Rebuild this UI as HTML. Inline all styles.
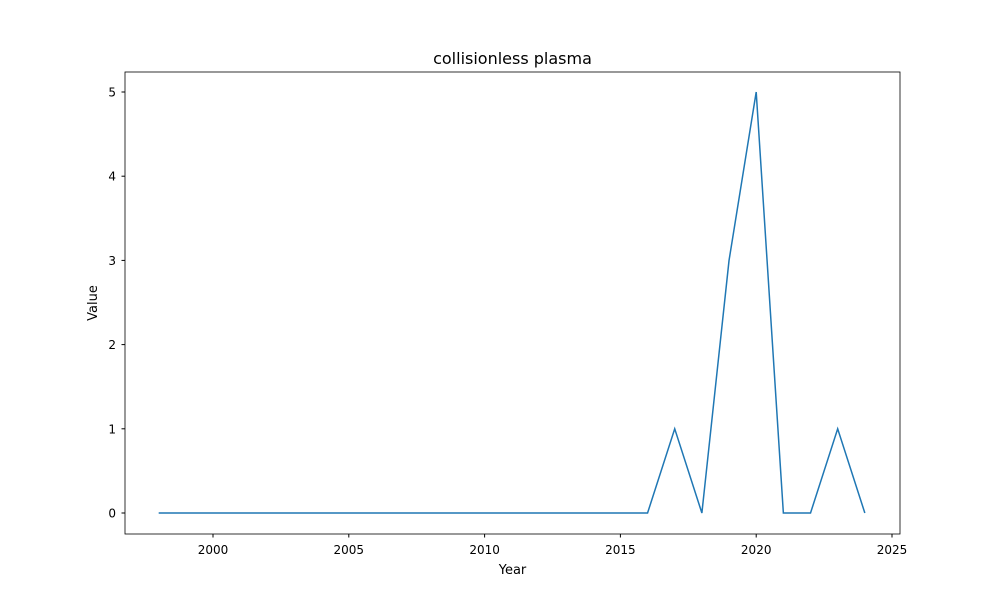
<!DOCTYPE html>
<html><head><meta charset="utf-8"><style>
body{margin:0;background:#fff;font-family:"Liberation Sans","DejaVu Sans",sans-serif}
svg text{font-family:"DejaVu Sans","Liberation Sans",sans-serif;fill:#000}
</style></head><body>
<svg id="chart" width="1000" height="600">
<rect width="1000" height="600" fill="#fff"/>
<text x="512.5" y="64" font-size="16" text-anchor="middle">collisionless plasma</text>
<rect x="125" y="72" width="775" height="462" fill="none" stroke="#000" stroke-width="0.8"/>
<g id="xt"></g><g id="yt"></g>
<text x="512.5" y="574" font-size="13" text-anchor="middle">Year</text>
<text transform="translate(97,303) rotate(-90)" font-size="13" text-anchor="middle">Value</text>
<path id="line" fill="none" stroke="#1f77b4" stroke-width="1.5"/>
</svg>
<script>
const years=[1998,1999,2000,2001,2002,2003,2004,2005,2006,2007,2008,2009,2010,2011,2012,2013,2014,2015,2016,2017,2018,2019,2020,2021,2022,2023,2024];
const values=[0,0,0,0,0,0,0,0,0,0,0,0,0,0,0,0,0,0,0,1,0,3,5,0,0,1,0];
const xTicks=[2000,2005,2010,2015,2020,2025];
const yTicks=[0,1,2,3,4,5];
const NS="http://www.w3.org/2000/svg";
const x=v=>213+(v-2000)*27.16;
const y=v=>513-v*84.2;
const xt=document.getElementById('xt'),yt=document.getElementById('yt');
xTicks.forEach(t=>{
 const l=document.createElementNS(NS,'line');
 l.setAttribute('x1',x(t));l.setAttribute('x2',x(t));l.setAttribute('y1',534);l.setAttribute('y2',537.5);l.setAttribute('stroke','#000');
 
 
 xt.appendChild(l);
 const s=document.createElementNS(NS,'text');
 s.setAttribute('x',x(t));s.setAttribute('y',554);s.setAttribute('font-size','12');s.setAttribute('text-anchor','middle');s.textContent=t;
 
 
 xt.appendChild(s);
});
yTicks.forEach(t=>{
 const l=document.createElementNS(NS,'line');
 l.setAttribute('x1',121.5);l.setAttribute('x2',125);l.setAttribute('y1',y(t));l.setAttribute('y2',y(t));l.setAttribute('stroke','#000');
 
 
 yt.appendChild(l);
 const s=document.createElementNS(NS,'text');
 s.setAttribute('x',116);s.setAttribute('y',y(t)+4.5);s.setAttribute('font-size','12');s.setAttribute('text-anchor','end');s.textContent=t;
 
 
 yt.appendChild(s);
});
document.getElementById('line').setAttribute('d',years.map((yr,i)=>(i?'L':'M')+x(yr).toFixed(2)+','+y(values[i]).toFixed(2)).join(' '));
</script>
</body></html>
